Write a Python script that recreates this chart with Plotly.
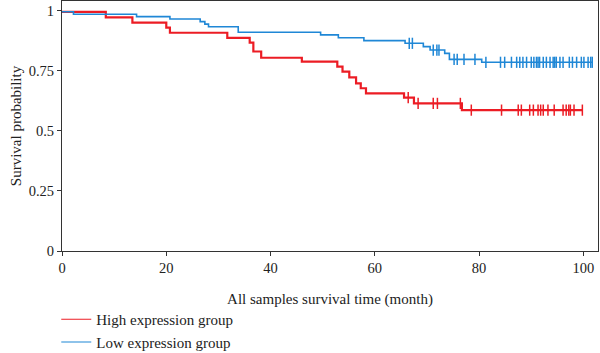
import numpy as np
import plotly.graph_objects as go

# High expression group (red): step times and survival after each step
high_times = [0, 8.4, 13.5, 20.0, 20.7, 31.7, 36.0, 36.7, 38.2, 46.0, 52.8, 53.8, 55.1, 56.4, 57.3, 58.3, 65.6, 67.5, 76.7]
high_surv = [0.995, 0.972, 0.95, 0.929, 0.908, 0.887, 0.867, 0.83, 0.804, 0.788, 0.767, 0.746, 0.722, 0.697, 0.677, 0.656, 0.638, 0.614, 0.586]
high_censor = [66.4, 68.3, 71.2, 72.0, 76.4, 78.5, 84.3, 87.5, 88.1, 89.7, 90.4, 91.3, 91.8, 92.3, 93.2, 94.4, 96.1, 96.7, 97.2, 97.5, 98.2, 99.8]

# Low expression group (blue)
low_times = [0, 2.2, 14.3, 20.7, 26.5, 27.4, 28.1, 33.8, 49.6, 53.0, 57.9, 65.8, 69.3, 70.6, 73.4, 74.3, 80.5]
low_surv = [0.995, 0.985, 0.975, 0.965, 0.954, 0.944, 0.933, 0.91, 0.899, 0.887, 0.875, 0.864, 0.85, 0.836, 0.822, 0.797, 0.785]
low_censor = [66.6, 67.2, 71.2, 71.9, 72.3, 75.2, 75.8, 77.1, 79.2, 81.3, 84.1, 84.9, 86.2, 87.2, 87.8, 88.4, 89.1, 90.0, 90.5, 91.0, 91.3, 91.6, 92.3, 92.9, 93.6, 94.2, 94.5, 94.8, 95.5, 96.1, 97.3, 97.9, 98.7, 99.6, 100.1, 100.9, 101.4, 101.7]

x_ticks = [0, 20, 40, 60, 80, 100]
y_ticks = [0, 0.25, 0.5, 0.75, 1]
y_tick_text = ["0", "0.25", "0.5", "0.75", "1"]

RED = "#EC1C24"
BLUE = "#1F87D6"
FONT = "Liberation Serif"


def curve(times, surv, censor):
    end = max(censor)
    xs = list(times) + [end]
    ys = list(surv) + [surv[-1]]
    idx = np.searchsorted(np.array(times), np.array(censor), side="right") - 1
    cy = [surv[i] for i in idx]
    return xs, ys, cy


fig = go.Figure()
for name, times, surv, cens, color, lg, w in [
    ("High expression group", high_times, high_surv, high_censor, RED, "legend", 2.2),
    ("Low expression group", low_times, low_surv, low_censor, BLUE, "legend2", 1.6),
]:
    xs, ys, cy = curve(times, surv, cens)
    fig.add_trace(go.Scatter(x=xs, y=ys, mode="lines", line=dict(color=color, width=w, shape="hv"),
                             name=name, showlegend=False))
    fig.add_trace(go.Scatter(x=cens, y=cy, mode="markers", showlegend=False,
                             marker=dict(symbol="line-ns", size=8, line=dict(color=color, width=1.5))))
    # legend entry (thin line sample, as in the reference)
    fig.add_trace(go.Scatter(x=[None], y=[None], mode="lines", line=dict(color=color, width=1.2),
                             name=name, legend=lg, showlegend=True))

axis_common = dict(showgrid=False, zeroline=False, showline=True, linecolor="#333333", linewidth=1,
                   mirror=True, ticks="outside", ticklen=4, tickcolor="#333333",
                   tickfont=dict(family=FONT, size=14.5, color="#222222"))

fig.update_layout(
    width=600, height=353,
    margin=dict(l=62, r=2, t=1, b=102, autoexpand=False),
    plot_bgcolor="white", paper_bgcolor="white",
    font=dict(family=FONT, size=15, color="#222222"),
    xaxis=dict(range=[0, 102.8], tickvals=x_ticks, title=dict(text="All samples survival time (month)",
               font=dict(family=FONT, size=15), standoff=18), **axis_common),
    yaxis=dict(range=[0, 1.04], tickvals=y_ticks, ticktext=y_tick_text,
               title=dict(text="Survival probability", font=dict(family=FONT, size=15), standoff=3), **axis_common),
    legend=dict(x=-0.0107, xanchor="left", y=-0.208, yanchor="top", bgcolor="rgba(0,0,0,0)",
                font=dict(family=FONT, size=15), itemwidth=30),
    legend2=dict(x=-0.0107, xanchor="left", y=-0.299, yanchor="top", bgcolor="rgba(0,0,0,0)",
                 font=dict(family=FONT, size=15), itemwidth=30),
)

fig.write_html("out.html")
